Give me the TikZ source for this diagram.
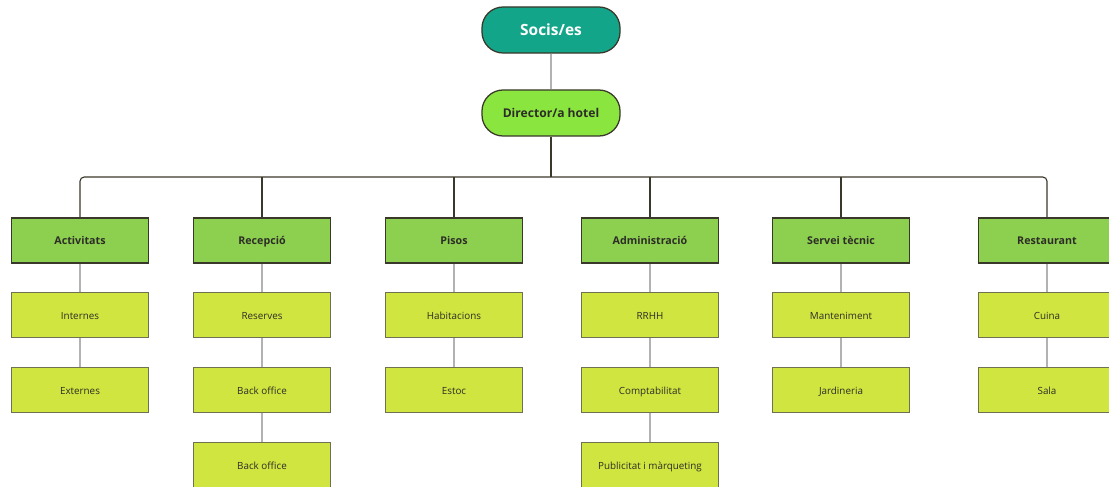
\documentclass[tikz,border=0pt]{standalone}
\usepackage{fontspec}
\setmainfont{Open Sans}
\usetikzlibrary{positioning}

\definecolor{socisColor}{RGB}{18,165,137}
\definecolor{dirColor}{RGB}{139,229,63}
\definecolor{deptColor}{RGB}{141,207,79}
\definecolor{subColor}{RGB}{208,229,63}
\definecolor{deptLine}{RGB}{58,56,42}
\definecolor{subLine}{RGB}{112,112,82}
\definecolor{textColor}{RGB}{45,45,40}

\tikzset{
    pill/.style={rounded corners=15pt, draw=deptLine, line width=0.9pt,
        minimum width=3.45cm, minimum height=1.15cm, font=\bfseries},
    deptbox/.style={draw=deptLine, fill=deptColor, line width=0.9pt,
        minimum width=3.42cm, minimum height=1.125cm,
        text height=1.6ex, text depth=0.45ex,
        font=\fontsize{7.6}{9}\selectfont\bfseries, text=textColor},
    subbox/.style={draw=subLine, fill=subColor, line width=0.7pt,
        minimum width=3.42cm, minimum height=1.125cm,
        text height=1.6ex, text depth=0.45ex,
        font=\fontsize{7}{9}\selectfont, text=textColor},
    busline/.style={draw=deptLine, line width=0.8pt},
    subline/.style={draw=black!30, line width=0.8pt},
}

\begin{document}
\begin{tikzpicture}[x=0.025cm, y=-0.025cm]

\useasboundingbox (0,0) rectangle (1109,486);
\clip (0,0) rectangle (1109,486);

% ---------------------------------------------------------------------------
% Top of the chart
% ---------------------------------------------------------------------------
\node[pill, fill=socisColor, text=white, font=\fontsize{11}{13}\selectfont\bfseries]
    (socis) at (551, 30) {Socis/es};
\node[pill, fill=dirColor, text=textColor, font=\fontsize{8.6}{10}\selectfont\bfseries]
    (dir) at (551, 113) {Director/a hotel};

\draw[subline] (socis) -- (dir);

% ---------------------------------------------------------------------------
% Departments
% ---------------------------------------------------------------------------
\foreach \nm/\cx/\lbl in {act/80/Activitats, rec/262/Recepció, pis/454/Pisos,
        adm/650/Administració, ser/841/Servei tècnic, res/1047/Restaurant} {
    \node[deptbox] (\nm) at (\cx, 240.5) {\lbl};
}

% Bus from the director to every department
\coordinate (bus) at (551, 177);
\draw[busline, rounded corners=3pt]
    (act.north) -- (act.north |- bus) -- (res.north |- bus) -- (res.north);
\draw[busline] (dir) -- (dir |- bus);
\foreach \nm in {rec, pis, adm, ser} {
    \draw[busline] (\nm.north |- bus) -- (\nm.north);
}

% ---------------------------------------------------------------------------
% Sections under each department
% ---------------------------------------------------------------------------
\foreach \nm/\lbl in {act/Internes, rec/Reserves, pis/Habitacions,
        adm/RRHH, ser/Manteniment, res/Cuina} {
    \node[subbox, below=20.5pt of \nm] (\nm1) {\lbl};
    \draw[subline] (\nm) -- (\nm1);
}
\foreach \nm/\lbl in {act/Externes, rec/Back office, pis/Estoc,
        adm/Comptabilitat, ser/Jardineria, res/Sala} {
    \node[subbox, below=20.5pt of \nm1] (\nm2) {\lbl};
    \draw[subline] (\nm1) -- (\nm2);
}
\foreach \nm/\lbl in {rec/Back office, adm/Publicitat i màrqueting} {
    \node[subbox, below=20.5pt of \nm2] (\nm3) {\lbl};
    \draw[subline] (\nm2) -- (\nm3);
}

\end{tikzpicture}
\end{document}
